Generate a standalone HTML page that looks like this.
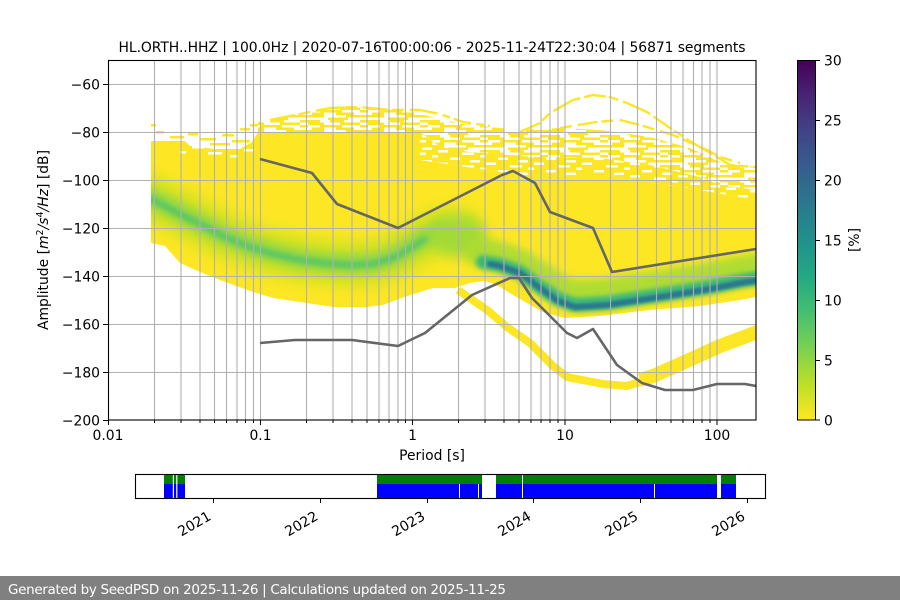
<!DOCTYPE html>
<html><head><meta charset="utf-8"><style>html,body{margin:0;padding:0;background:#fff;}svg{display:block}</style></head>
<body>
<svg xmlns="http://www.w3.org/2000/svg" width="900" height="600" viewBox="0 0 900 600" font-family="DejaVu Sans, Liberation Sans, sans-serif">
<defs>
  <clipPath id="ax"><rect x="108" y="60" width="648" height="360"/></clipPath>
  <clipPath id="main"><polygon points="151,141 185,141 190,146 215,149 240,149 252,142 258,132 420,132 440,147 470,152 520,156 560,158 600,158 650,165 700,177 720,185 756,190 756,297 740,300 700,306 650,310 600,316 565,318 545,313 525,302 508,292 495,284 485,281 470,283 455,288 433,288 417,293 407,296 383,305 367,307 333,307 300,302 273,298 253,292 220,280 200,272 180,263 165,246 151,243"/></clipPath>
  <filter id="b1" filterUnits="userSpaceOnUse" x="0" y="0" width="900" height="600"><feGaussianBlur stdDeviation="1.2"/></filter>
  <filter id="b2" filterUnits="userSpaceOnUse" x="0" y="0" width="900" height="600"><feGaussianBlur stdDeviation="2.5"/></filter>
  <filter id="b4" filterUnits="userSpaceOnUse" x="0" y="0" width="900" height="600"><feGaussianBlur stdDeviation="4"/></filter>
  <filter id="b7" filterUnits="userSpaceOnUse" x="0" y="0" width="900" height="600"><feGaussianBlur stdDeviation="7"/></filter>
  <pattern id="sp" width="60" height="15" patternUnits="userSpaceOnUse">
    <g fill="#fde725">
      <rect x="0" y="0" width="20" height="2.5"/><rect x="30" y="0" width="14" height="2.5"/>
      <rect x="8" y="2.5" width="16" height="2.5"/><rect x="40" y="2.5" width="20" height="2.5"/>
      <rect x="0" y="5" width="8" height="2.5"/><rect x="20" y="5" width="22" height="2.5"/>
      <rect x="12" y="7.5" width="12" height="2.5"/><rect x="36" y="7.5" width="18" height="2.5"/>
      <rect x="0" y="10" width="24" height="2.5"/><rect x="46" y="10" width="14" height="2.5"/>
      <rect x="28" y="12.5" width="20" height="2.5"/>
    </g>
  </pattern>
  <pattern id="ss" width="72" height="15" patternUnits="userSpaceOnUse">
    <g fill="#fde725">
      <rect x="0" y="0" width="14" height="2.5"/><rect x="40" y="2.5" width="18" height="2.5"/>
      <rect x="20" y="5" width="10" height="2.5"/><rect x="56" y="7.5" width="12" height="2.5"/>
      <rect x="6" y="10" width="18" height="2.5"/><rect x="34" y="12.5" width="10" height="2.5"/>
    </g>
  </pattern>
  <pattern id="dp" width="48" height="12.5" patternUnits="userSpaceOnUse">
    <rect width="48" height="12.5" fill="#fde725"/>
    <g fill="#fff">
      <rect x="6" y="0" width="10" height="2.5"/><rect x="30" y="2.5" width="12" height="2.5"/>
      <rect x="0" y="5" width="6" height="2.5"/><rect x="18" y="7.5" width="10" height="2.5"/>
      <rect x="38" y="10" width="10" height="2.5"/>
    </g>
  </pattern>
  <linearGradient id="vir" x1="0" y1="1" x2="0" y2="0">
    <stop offset="0" stop-color="#fde725"/><stop offset="0.1" stop-color="#bddf26"/>
    <stop offset="0.2" stop-color="#7ad151"/><stop offset="0.3" stop-color="#44bf70"/>
    <stop offset="0.4" stop-color="#22a884"/><stop offset="0.5" stop-color="#21918c"/>
    <stop offset="0.6" stop-color="#2a788e"/><stop offset="0.7" stop-color="#355f8d"/>
    <stop offset="0.8" stop-color="#414487"/><stop offset="0.9" stop-color="#482475"/>
    <stop offset="1" stop-color="#440154"/>
  </linearGradient>
</defs>

<rect width="900" height="600" fill="#fff"/>

<!-- Title -->
<text x="432" y="52" font-size="13.9" text-anchor="middle" textLength="627" lengthAdjust="spacing">HL.ORTH..HHZ | 100.0Hz | 2020-07-16T00:00:06 - 2025-11-24T22:30:04 | 56871 segments</text>

<!-- Heatmap -->
<g clip-path="url(#ax)">
  <!-- sparse regions -->
  <g fill="#fde725">
    <rect x="151" y="124" width="5" height="2.5"/><rect x="156" y="131" width="8" height="2.5"/>
    <rect x="170" y="136" width="14" height="2.5"/><rect x="188" y="133" width="10" height="2.5"/>
    <rect x="200" y="138" width="16" height="2.5"/><rect x="222" y="134" width="12" height="2.5"/>
    <rect x="232" y="140" width="18" height="2.5"/><rect x="240" y="128" width="10" height="2.5"/>
    <rect x="250" y="124" width="8" height="2.5"/><rect x="210" y="143" width="20" height="2.5"/>
  </g>
  <polygon fill="url(#sp)" points="258,122 290,116 320,109 345,106 375,108 400,109 420,112 420,132 258,132"/>
  <polygon fill="url(#sp)" points="420,114 463,124 500,128 520,130 560,128 600,130 650,137 690,148 720,162 756,167 756,190 720,185 700,177 650,165 600,158 560,158 520,156 470,152 440,147 420,132"/>
  <polygon fill="url(#dp)" points="420,132 440,147 470,152 520,156 560,158 600,158 650,165 700,177 720,185 756,190 756,200 700,190 600,175 520,175 420,160"/>
  <g fill="none" stroke="#fde725" stroke-width="2.4">
    <polyline stroke-dasharray="22 3 10 5 30 4" points="520,132 540,123 550,113 573,100 593,95 610,97 627,103 647,112 673,130 693,143 717,157 730,165 756,167"/>
    <polyline stroke-dasharray="12 6 20 4" points="560,128 597,122 620,120 640,125 673,135 707,150 720,157 740,163"/>
    <polyline stroke-dasharray="18 5 8 4" points="420,110 440,114 463,122 490,126"/>
    <polyline stroke-dasharray="25 4 12 6" points="270,120 300,114 330,108 360,107 390,110 420,110"/>
  </g>
  <!-- solid region -->
  <polygon fill="#fde725" points="151,141 185,141 190,146 215,149 240,149 252,142 258,132 420,132 420,160 520,175 600,175 700,190 756,200 756,297 740,300 700,306 650,310 600,316 565,318 545,313 525,302 508,292 495,284 485,281 470,283 455,288 433,288 417,293 407,296 383,305 367,307 333,307 300,302 273,298 253,292 220,280 200,272 180,263 165,246 151,243"/>
  <g fill="#fff">
    <rect x="192" y="146" width="12" height="2.5"/><rect x="208" y="152" width="14" height="2.5"/>
    <rect x="230" y="155" width="8" height="2.5"/><rect x="244" y="149" width="10" height="2.5"/>
    <rect x="180" y="151" width="6" height="2.5"/>
  </g>
  <!-- lower branch -->
  <g fill="none" stroke="#fde725" stroke-linejoin="round">
    <polyline stroke-width="8" points="458,290 487,310 507,327 530,343 553,366 567,377 603,384 627,386 653,378 687,364 720,349 760,334"/>
    <polyline stroke-width="14" points="640,380 653,376 687,361 720,346 760,331"/>
    <polyline stroke-width="3" stroke-dasharray="8 5" points="470,298 495,316 515,333"/>
  </g>
  <!-- density bands -->
  <g clip-path="url(#main)" fill="none" stroke-linejoin="round" stroke-linecap="round">
    <polyline stroke="#c6e021" stroke-width="44" opacity="0.85" filter="url(#b7)" points="151,198 165,205 180,213 200,223 223,235 250,246 273,253 300,259 323,262 350,264 373,263 395,256 407,249 425,238 440,230 460,232"/>
    <polyline stroke="#97d840" stroke-width="20" filter="url(#b4)" points="151,198 165,205 180,213 200,223 223,235 250,246 273,253 300,259 323,262 350,264 373,263 395,256 407,249 425,238 440,231"/>
    <polyline stroke="#5cc863" stroke-width="7" filter="url(#b2)" points="151,199 165,206 180,214 200,224 223,236 250,247 273,254 300,260 323,263 350,265 373,264 395,257 407,250 425,239"/>
    <ellipse cx="458" cy="236" rx="28" ry="20" fill="#a2da37" filter="url(#b7)"/>
    <polyline stroke="#a8db34" stroke-width="30" opacity="0.9" filter="url(#b4)" points="480,252 500,257 520,264 540,277 558,289 575,295 607,293 640,288 673,283 710,277 740,271 760,268"/>
    <polyline stroke="#3bb77a" stroke-width="14" filter="url(#b2)" points="483,262 500,265 520,272 540,287 558,299 575,305 607,303 640,298 673,293 710,287 740,281 760,278"/>
    <polyline stroke="#2a788e" stroke-width="6" filter="url(#b1)" points="490,264 500,266 520,273 540,288 558,301 575,307 607,305 640,300 673,295 710,289 740,283 760,280"/>
  </g>
</g>

<!-- Grid -->
<g stroke="#b0b0b0" stroke-width="1.1">
  <path d="M154.5,60V420M181,60V420M200,60V420M214.5,60V420M226.5,60V420M237,60V420M245.5,60V420M253.5,60V420M260.5,60V420M306.5,60V420M333,60V420M352,60V420M367,60V420M379,60V420M389,60V420M398,60V420M405.5,60V420M412.5,60V420M458.5,60V420M485,60V420M504,60V420M519,60V420M531,60V420M541,60V420M550,60V420M558,60V420M565,60V420M610.5,60V420M637.5,60V420M656.5,60V420M671,60V420M683,60V420M693.5,60V420M702,60V420M710,60V420M717,60V420"/>
  <path d="M108,84.5H756M108,132.5H756M108,180.5H756M108,228.5H756M108,276.5H756M108,324.5H756M108,372.5H756"/>
</g>

<!-- NHNM / NLNM -->
<g fill="none" stroke="#666" stroke-width="2.6" stroke-linejoin="round">
  <polyline points="260,159 312,173 337,204 398,228 502,175 513,171 535,183 550,212 593,228 612,272 756,249"/>
  <polyline points="260,343 295,340 352,340 398,346 425,333 472,295 510,278 519,278 532,298 567,333 577,338 593,329 617,365 642,383 665,390 693,390 717,384 745,384 756,386"/>
</g>

<!-- Axes frame -->
<rect x="108.5" y="60.5" width="647.5" height="359.5" fill="none" stroke="#000" stroke-width="1.1"/>
<!-- x ticks -->
<g stroke="#000" stroke-width="1">
  <path d="M108.5,420V425M260.5,420V425M412.5,420V425M565,420V425M717,420V425"/>
  <path d="M154.5,420V423M181,420V423M200,420V423M214.5,420V423M226.5,420V423M237,420V423M245.5,420V423M253.5,420V423M306.5,420V423M333,420V423M352,420V423M367,420V423M379,420V423M389,420V423M398,420V423M405.5,420V423M458.5,420V423M485,420V423M504,420V423M519,420V423M531,420V423M541,420V423M550,420V423M558,420V423M610.5,420V423M637.5,420V423M656.5,420V423M671,420V423M683,420V423M693.5,420V423M702,420V423M710,420V423"/>
  <path d="M103,84.5H108M103,132.5H108M103,180.5H108M103,228.5H108M103,276.5H108M103,324.5H108M103,372.5H108M103,420.5H108"/>
</g>
<g font-size="13.9" fill="#000">
  <g text-anchor="middle">
    <text x="108" y="440">0.01</text>
    <text x="260.5" y="440">0.1</text>
    <text x="412.5" y="440">1</text>
    <text x="565" y="440">10</text>
    <text x="717" y="440">100</text>
    <text x="432" y="460">Period [s]</text>
  </g>
  <g text-anchor="end">
    <text x="100" y="89.5">−60</text>
    <text x="100" y="137.5">−80</text>
    <text x="100" y="185.5">−100</text>
    <text x="100" y="233.5">−120</text>
    <text x="100" y="281.5">−140</text>
    <text x="100" y="329.5">−160</text>
    <text x="100" y="377.5">−180</text>
    <text x="100" y="425.5">−200</text>
  </g>
  <text transform="translate(48,240) rotate(-90)" text-anchor="middle">Amplitude [<tspan font-style="italic">m</tspan><tspan font-size="9.5" dy="-5">2</tspan><tspan font-style="italic" dy="5">/s</tspan><tspan font-size="9.5" dy="-5">4</tspan><tspan font-style="italic" dy="5">/Hz</tspan>] [dB]</text>
</g>

<!-- Colorbar -->
<rect x="797" y="60" width="18.5" height="360" fill="url(#vir)"/>
<rect x="797.5" y="60.5" width="18" height="359.5" fill="none" stroke="#000" stroke-width="1"/>
<g stroke="#000" stroke-width="1">
  <path d="M815.5,60.5H820M815.5,120.5H820M815.5,180.5H820M815.5,240.5H820M815.5,300.5H820M815.5,360.5H820M815.5,420H820"/>
</g>
<g font-size="13.9" fill="#000">
  <text x="824" y="65.5">30</text>
  <text x="824" y="125.5">25</text>
  <text x="824" y="185.5">20</text>
  <text x="824" y="245.5">15</text>
  <text x="824" y="305.5">10</text>
  <text x="824" y="365.5">5</text>
  <text x="824" y="425.5">0</text>
  <text transform="translate(859,240) rotate(-90)" text-anchor="middle">[%]</text>
</g>

<!-- Availability bar -->
<g>
  <rect x="164" y="474" width="21" height="10" fill="#008000"/>
  <rect x="164" y="484" width="21" height="14" fill="#0000ff"/>
  <rect x="172.8" y="474" width="1.2" height="24" fill="#fff"/>
  <rect x="176.2" y="474" width="1.2" height="24" fill="#fff"/>
  <rect x="377" y="474" width="105" height="10" fill="#008000"/>
  <rect x="377" y="484" width="105" height="14" fill="#0000ff"/>
  <rect x="459" y="484" width="1" height="14" fill="#fff"/>
  <rect x="478" y="484" width="1" height="14" fill="#fff"/>
  <rect x="496" y="474" width="221" height="10" fill="#008000"/>
  <rect x="496" y="484" width="221" height="14" fill="#0000ff"/>
  <rect x="522" y="474" width="1" height="24" fill="#fff"/>
  <rect x="654" y="484" width="1" height="14" fill="#fff"/>
  <rect x="721" y="474" width="15" height="10" fill="#008000"/>
  <rect x="721" y="484" width="15" height="14" fill="#0000ff"/>
</g>
<rect x="135.5" y="474.5" width="630" height="24" fill="none" stroke="#000" stroke-width="1.1"/>
<g stroke="#000" stroke-width="1">
  <path d="M213.5,498.5V503M320.5,498.5V503M427.5,498.5V503M533.5,498.5V503M640.5,498.5V503M747.5,498.5V503"/>
</g>
<g font-size="13.9" fill="#000" text-anchor="end">
  <text transform="translate(212,519) rotate(-30)">2021</text>
  <text transform="translate(319,519) rotate(-30)">2022</text>
  <text transform="translate(426,519) rotate(-30)">2023</text>
  <text transform="translate(532,519) rotate(-30)">2024</text>
  <text transform="translate(639,519) rotate(-30)">2025</text>
  <text transform="translate(746,519) rotate(-30)">2026</text>
</g>

<!-- Footer -->
<rect x="0" y="576" width="900" height="24" fill="#808080"/>
<text x="8" y="594" font-size="13.5" fill="#fff" textLength="498" lengthAdjust="spacing">Generated by SeedPSD on 2025-11-26 | Calculations updated on 2025-11-25</text>
</svg>
</body></html>
